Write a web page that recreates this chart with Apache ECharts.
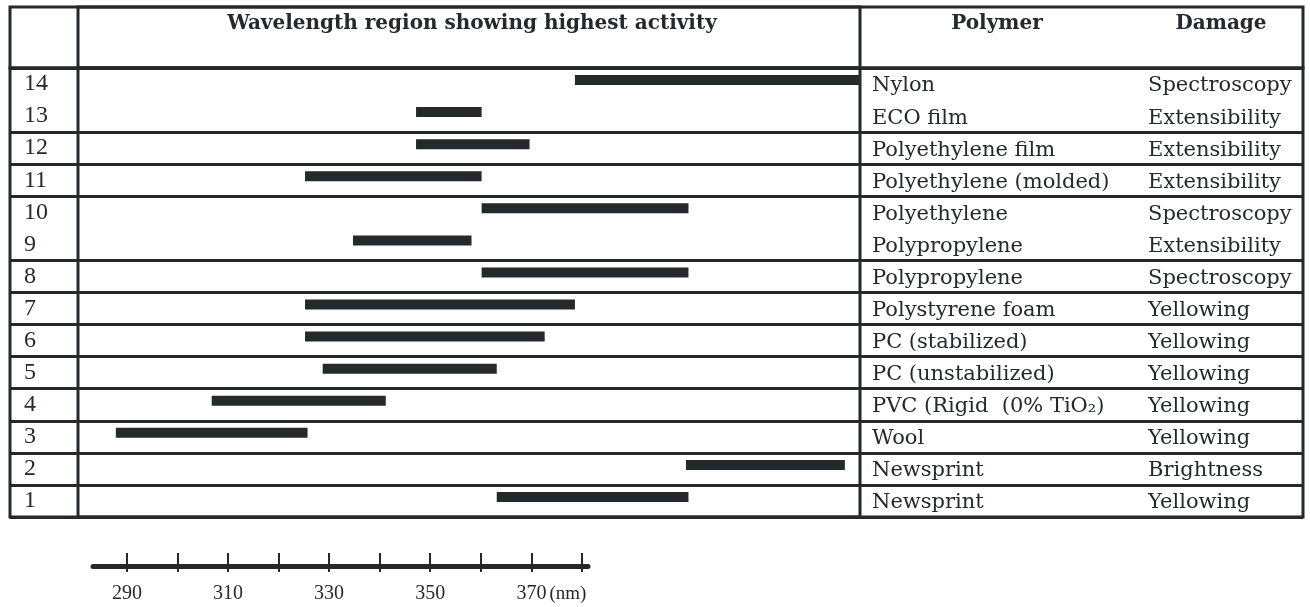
<!DOCTYPE html>
<html>
<head>
<meta charset="utf-8">
<script src="https://cdn.jsdelivr.net/npm/echarts@6/dist/echarts.min.js"></script>
<style>html,body{margin:0;padding:0;background:#fff;}#c{width:1310px;height:607px;}</style>
</head>
<body>
<div id="c"></div>
<script>
// ---- data ----
const rowIds = ['1','2','3','4','5','6','7','8','9','10','11','12','13','14'];
const polymers = ['Newsprint','Newsprint','Wool','PVC (Rigid  (0% TiO\u2082)','PC (unstabilized)','PC (stabilized)','Polystyrene foam','Polypropylene','Polypropylene','Polyethylene','Polyethylene (molded)','Polyethylene film','ECO film','Nylon'];
const damages = ['Yellowing','Brightness','Yellowing','Yellowing','Yellowing','Yellowing','Yellowing','Spectroscopy','Extensibility','Spectroscopy','Extensibility','Extensibility','Extensibility','Spectroscopy'];
const rangeStart = [363, 400.5, 287.5, 306.5, 328.5, 325, 325, 360, 334.5, 360, 325, 347, 347, 378.5];
const rangeEnd   = [401, 432, 325.5, 341, 363, 372.5, 378.5, 401, 358, 401, 360, 369.5, 360, 435];
const tickValues = [290, 300, 310, 320, 330, 340, 350, 360, 370, 380];
const labelValues = [290, 310, 330, 350, 370];
const headerWave = 'Wavelength region showing highest activity';
const headerPolymer = 'Polymer';
const headerDamage = 'Damage';
const mergedAbove = ['13', '9']; // rows sharing a cell with the row above

// ---- chart ----
const INK = '#25292b';
const chart = echarts.init(document.getElementById('c'), null, {renderer: 'canvas'});
const barData = rowIds.map((id, i) => [rangeStart[i], rangeEnd[i], i]);
const hiddenVal = (gi) => ({type: 'value', gridIndex: gi, show: false});
const mergedIdx = mergedAbove.map(r => rowIds.indexOf(r) + 1);
const NUMFONT = "'Liberation Sans Narrow', 'Liberation Serif'";

const option = {
  backgroundColor: '#ffffff',
  animation: false,
  grid: [
    {left: 10, right: 7, top: 7, height: 61, show: true, borderColor: INK, borderWidth: 3, backgroundColor: 'transparent'},
    {left: 78, right: 450, top: 7, height: 61, show: true, borderColor: INK, borderWidth: 3, backgroundColor: 'transparent'},
    {left: 10, right: 7, top: 68, height: 449, show: true, borderColor: INK, borderWidth: 3, backgroundColor: 'transparent'},
    {left: 78, right: 450, top: 68, height: 449, show: true, borderColor: INK, borderWidth: 3, backgroundColor: 'transparent'},
    {left: 93, right: 722, top: 540, height: 26}
  ],
  xAxis: [
    hiddenVal(0), hiddenVal(1), hiddenVal(2),
    {type: 'value', gridIndex: 3, min: 280, max: 435, show: false},
    {type: 'value', gridIndex: 4, min: 283.3, max: 381.2, position: 'bottom',
     axisLine: {show: true, lineStyle: {color: INK, width: 5}},
     axisTick: {show: true, inside: true, length: 13, customValues: tickValues, lineStyle: {color: INK, width: 2}},
     splitLine: {show: false},
     axisLabel: {show: true, margin: 18, customValues: labelValues, color: INK,
       fontFamily: NUMFONT, fontSize: 20,
       formatter: v => v === 370 ? '{p| }{v|370}{u|(nm)}' : '{v|' + v + '}',
       rich: {
         p: {width: 40},
         v: {fontFamily: NUMFONT, fontSize: 20, color: INK},
         u: {fontFamily: "'Liberation Serif'", fontSize: 19, color: INK, padding: [0, 0, 0, 3]}
       }}},
    {type: 'value', gridIndex: 4, min: 283.3, max: 381.2, position: 'bottom', offset: 0,
     axisLine: {show: false},
     axisTick: {show: true, inside: false, length: 6, customValues: tickValues, lineStyle: {color: INK, width: 2}},
     splitLine: {show: false},
     axisLabel: {show: false}}
  ],
  yAxis: [
    hiddenVal(0), hiddenVal(1),
    {type: 'category', gridIndex: 2, data: rowIds,
     axisLine: {show: false}, axisTick: {show: false}, axisLabel: {show: false},
     splitLine: {show: true, interval: (idx) => mergedIdx.indexOf(idx) < 0, lineStyle: {color: INK, width: 3}}},
    {type: 'category', gridIndex: 3, data: rowIds, position: 'left',
     axisLine: {show: false}, axisTick: {show: false}, splitLine: {show: false},
     axisLabel: {align: 'left', margin: 54, color: INK, padding: [4, 0, 0, 0],
       fontFamily: NUMFONT, fontSize: 24}},
    {type: 'category', gridIndex: 3, data: rowIds, position: 'right',
     axisLine: {show: false}, axisTick: {show: false}, splitLine: {show: false},
     axisLabel: {align: 'left', margin: 12, color: INK, padding: [4, 0, 0, 0],
       formatter: (v, i) => '{p|' + polymers[i] + '}{d|' + damages[i] + '}',
       rich: {
         p: {width: 276, fontFamily: "'DejaVu Serif'", fontSize: 21, color: INK, align: 'left'},
         d: {fontFamily: "'DejaVu Serif'", fontSize: 21, color: INK, align: 'left'}
       }}},
    {type: 'value', gridIndex: 4, show: false, min: 0, max: 1}
  ],
  graphic: [
    {type: 'text', x: 472, y: 24, style: {text: headerWave, textAlign: 'center', textVerticalAlign: 'middle', fill: INK, font: "bold 20px 'DejaVu Serif'"}},
    {type: 'text', x: 997, y: 24, style: {text: headerPolymer, textAlign: 'center', textVerticalAlign: 'middle', fill: INK, font: "bold 20px 'DejaVu Serif'"}},
    {type: 'text', x: 1221, y: 24, style: {text: headerDamage, textAlign: 'center', textVerticalAlign: 'middle', fill: INK, font: "bold 20px 'DejaVu Serif'"}}
  ],
  series: [{
    type: 'custom', xAxisIndex: 3, yAxisIndex: 3,
    data: barData,
    encode: {x: [0, 1], y: 2},
    renderItem: (params, api) => {
      const a = api.coord([api.value(0), api.value(2)]);
      const b = api.coord([api.value(1), api.value(2)]);
      const h = 10;
      return {type: 'rect', shape: {x: a[0], y: a[1] - h / 2 - 4, width: b[0] - a[0], height: h},
              style: {fill: INK}};
    }
  }]
};
chart.setOption(option);
</script>
</body>
</html>
